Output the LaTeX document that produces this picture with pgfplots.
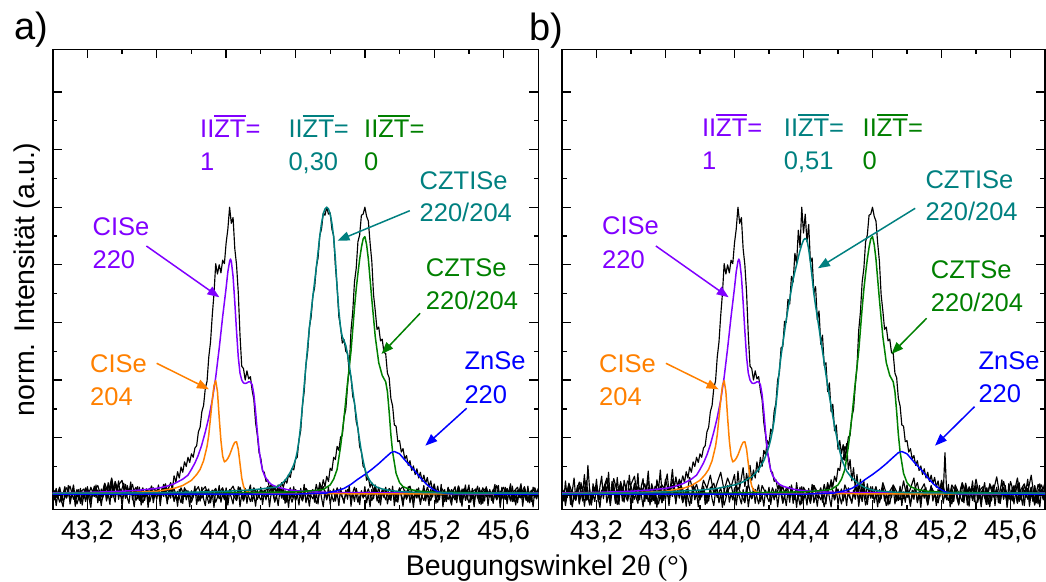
\documentclass[border=0pt]{standalone}
\usepackage{pgfplots}
\pgfplotsset{compat=1.18}
\usepackage{pgfplotstable}
\usetikzlibrary{arrows.meta}
\usepackage{fontspec}
\setmainfont{Liberation Sans}
\newfontfamily\seriffont{Liberation Serif}
\definecolor{cviolet}{RGB}{128,0,255}
\definecolor{cteal}{RGB}{0,128,128}
\definecolor{cgreen}{RGB}{0,128,0}
\definecolor{corange}{RGB}{255,128,0}
\definecolor{cblue}{RGB}{0,0,255}
\newcommand{\ZT}{\setbox0\hbox{ZT}\rlap{\rule[\dimexpr\ht0+0.12em\relax]{\wd0}{0.08em}}ZT}
\newcommand{\annfont}{\fontsize{25.5}{32}\selectfont}

\pgfplotstableread[row sep=\\]{x y\\
43.00 0.04\\43.20 0.05\\43.40 0.07\\43.50 0.09\\43.60 0.12\\43.65 0.15\\43.70 0.20\\43.75 0.28\\43.78 0.35\\43.80 0.45\\43.82 0.56\\43.84 0.70\\43.86 0.88\\43.88 1.10\\43.90 1.35\\43.92 1.65\\43.94 2.05\\43.96 2.55\\43.98 3.10\\44.00 3.60\\44.01 3.88\\44.02 4.06\\44.025 4.10\\44.03 4.06\\44.04 3.80\\44.05 3.35\\44.06 2.85\\44.07 2.40\\44.08 2.12\\44.09 2.00\\44.10 1.95\\44.11 1.94\\44.12 1.95\\44.13 1.97\\44.14 1.97\\44.15 1.92\\44.16 1.75\\44.17 1.45\\44.18 1.10\\44.19 0.80\\44.20 0.58\\44.21 0.44\\44.22 0.35\\44.24 0.25\\44.26 0.19\\44.28 0.16\\44.30 0.14\\44.35 0.10\\44.40 0.08\\44.50 0.06\\44.60 0.05\\44.80 0.045\\45.20 0.04\\45.80 0.04\\
}\tViolet

\pgfplotstableread[row sep=\\]{x y\\
43.00 0.03\\43.40 0.04\\43.60 0.07\\43.70 0.12\\43.75 0.17\\43.80 0.26\\43.83 0.36\\43.85 0.45\\43.87 0.60\\43.89 0.85\\43.90 1.05\\43.91 1.35\\43.92 1.65\\43.93 1.90\\43.94 1.99\\43.95 1.80\\43.96 1.35\\43.97 0.95\\43.98 0.68\\43.99 0.58\\44.00 0.60\\44.01 0.64\\44.02 0.70\\44.03 0.78\\44.04 0.86\\44.05 0.92\\44.06 0.93\\44.07 0.80\\44.08 0.55\\44.09 0.30\\44.10 0.16\\44.11 0.09\\44.13 0.05\\44.20 0.03\\45.80 0.02\\
}\tOrange

\pgfplotstableread[row sep=\\]{x y\\
43.00 0.03\\44.00 0.04\\44.40 0.06\\44.50 0.08\\44.56 0.10\\44.60 0.18\\44.62 0.28\\44.64 0.45\\44.66 0.85\\44.68 1.35\\44.70 1.95\\44.72 2.50\\44.74 3.25\\44.75 3.58\\44.76 3.85\\44.77 4.10\\44.78 4.30\\44.79 4.45\\44.80 4.49\\44.81 4.35\\44.82 4.10\\44.83 3.75\\44.84 3.40\\44.86 2.75\\44.88 2.30\\44.90 2.08\\44.92 1.97\\44.93 1.80\\44.94 1.45\\44.95 1.05\\44.96 0.75\\44.98 0.38\\45.00 0.22\\45.02 0.15\\45.06 0.10\\45.12 0.07\\45.20 0.055\\45.50 0.04\\45.80 0.035\\
}\tGreen

\pgfplotstableread[row sep=\\]{x y\\
43.00 0.02\\44.40 0.02\\44.50 0.03\\44.58 0.04\\44.64 0.08\\44.68 0.12\\44.72 0.19\\44.76 0.28\\44.80 0.36\\44.84 0.45\\44.88 0.55\\44.92 0.66\\44.95 0.74\\44.97 0.76\\45.00 0.72\\45.04 0.58\\45.08 0.45\\45.10 0.38\\45.13 0.27\\45.16 0.18\\45.19 0.11\\45.22 0.06\\45.26 0.035\\45.30 0.025\\45.80 0.02\\
}\tBlue

\pgfplotstableread[row sep=\\]{x y\\
43.00 0.035\\43.40 0.04\\43.70 0.05\\43.90 0.06\\44.00 0.07\\44.10 0.085\\44.15 0.095\\44.20 0.11\\44.25 0.13\\44.29 0.14\\44.30 0.16\\44.31 0.18\\44.32 0.20\\44.33 0.23\\44.34 0.26\\44.35 0.30\\44.36 0.35\\44.37 0.40\\44.38 0.46\\44.39 0.53\\44.40 0.62\\44.41 0.76\\44.42 0.95\\44.43 1.22\\44.44 1.55\\44.45 1.90\\44.46 2.25\\44.47 2.58\\44.48 2.90\\44.49 3.18\\44.50 3.45\\44.51 3.70\\44.52 3.95\\44.53 4.22\\44.54 4.50\\44.55 4.72\\44.56 4.88\\44.57 4.97\\44.58 5.00\\44.59 4.97\\44.60 4.88\\44.61 4.72\\44.62 4.48\\44.63 4.10\\44.64 3.60\\44.65 3.20\\44.66 2.90\\44.67 2.75\\44.68 2.68\\44.69 2.60\\44.70 2.45\\44.71 2.26\\44.72 2.05\\44.73 1.82\\44.74 1.60\\44.75 1.38\\44.76 1.15\\44.77 0.95\\44.78 0.75\\44.79 0.60\\44.80 0.46\\44.81 0.37\\44.82 0.30\\44.83 0.25\\44.84 0.21\\44.85 0.18\\44.86 0.16\\44.87 0.14\\44.88 0.13\\44.89 0.12\\44.90 0.11\\44.94 0.085\\45.00 0.065\\45.10 0.05\\45.30 0.04\\45.80 0.035\\
}\tTealA

\pgfplotstableread[row sep=\\]{x y\\
43.00 0.03\\43.40 0.04\\43.60 0.06\\43.80 0.09\\43.90 0.12\\44.00 0.18\\44.02 0.20\\44.04 0.22\\44.06 0.25\\44.08 0.29\\44.10 0.32\\44.12 0.38\\44.14 0.45\\44.15 0.50\\44.16 0.55\\44.17 0.60\\44.18 0.68\\44.19 0.76\\44.20 0.85\\44.21 0.97\\44.22 1.12\\44.23 1.30\\44.24 1.55\\44.25 1.85\\44.26 2.18\\44.27 2.42\\44.28 2.63\\44.29 2.84\\44.30 3.05\\44.31 3.23\\44.32 3.40\\44.33 3.58\\44.34 3.75\\44.35 3.88\\44.36 4.00\\44.37 4.13\\44.38 4.25\\44.39 4.35\\44.40 4.43\\44.41 4.46\\44.42 4.43\\44.43 4.27\\44.44 4.05\\44.45 3.78\\44.46 3.50\\44.47 3.29\\44.48 3.10\\44.49 2.90\\44.50 2.70\\44.51 2.50\\44.52 2.30\\44.53 2.10\\44.54 1.90\\44.55 1.72\\44.56 1.55\\44.57 1.37\\44.58 1.20\\44.59 1.05\\44.60 0.90\\44.61 0.77\\44.62 0.65\\44.63 0.56\\44.64 0.49\\44.65 0.42\\44.66 0.38\\44.68 0.30\\44.70 0.25\\44.72 0.20\\44.74 0.16\\44.76 0.13\\44.78 0.11\\44.80 0.09\\44.85 0.07\\44.95 0.05\\45.20 0.04\\45.80 0.035\\
}\tTealB

\pgfplotstableread[row sep=\\]{x y\\
43.70 0.34\\43.71 0.22\\43.72 0.41\\43.73 0.30\\43.74 0.49\\43.75 0.40\\43.76 0.58\\43.77 0.50\\43.78 0.66\\43.79 0.57\\43.80 0.72\\43.81 0.66\\43.82 0.82\\43.83 0.86\\43.84 1.10\\43.85 1.18\\43.86 1.45\\43.87 1.56\\43.88 1.86\\43.89 1.98\\43.90 2.40\\43.91 2.66\\43.92 3.12\\43.93 3.50\\43.94 4.02\\43.95 3.84\\43.96 4.00\\43.97 3.86\\43.98 4.08\\43.99 4.02\\44.00 4.38\\44.01 4.62\\44.02 5.00\\44.03 4.72\\44.04 4.82\\44.05 4.28\\44.06 4.00\\44.07 3.52\\44.08 2.78\\44.09 2.24\\44.10 2.20\\44.11 2.00\\44.12 2.16\\44.13 2.02\\44.14 2.06\\44.15 1.82\\44.16 1.66\\44.17 1.26\\44.18 1.04\\44.19 0.74\\44.20 0.64\\44.21 0.42\\44.22 0.40\\44.23 0.24\\44.24 0.27\\44.25 0.12\\44.26 0.19\\44.27 0.08\\44.28 0.15\\44.29 0.04\\44.30 0.12\\
}\tSone

\pgfplotstableread[row sep=\\]{x y\\
44.51 0.02\\44.52 0.19\\44.53 0.05\\44.54 0.22\\44.55 0.10\\44.56 0.27\\44.57 0.15\\44.58 0.33\\44.59 0.24\\44.60 0.47\\44.61 0.43\\44.62 0.66\\44.63 0.62\\44.64 0.85\\44.65 0.78\\44.66 1.01\\44.67 1.04\\44.68 1.36\\44.69 1.49\\44.70 1.90\\44.71 2.22\\44.72 2.86\\44.73 3.18\\44.74 3.70\\44.75 3.94\\44.76 4.40\\44.77 4.52\\44.78 4.86\\44.79 4.88\\44.80 5.00\\44.81 4.84\\44.82 4.76\\44.83 4.38\\44.84 4.06\\44.85 3.48\\44.86 3.20\\44.87 2.88\\44.88 2.92\\44.89 2.68\\44.90 2.71\\44.91 2.48\\44.92 2.46\\44.93 2.12\\44.94 2.04\\44.95 1.68\\44.96 1.55\\44.97 1.22\\44.98 1.20\\44.99 0.93\\45.00 0.95\\45.01 0.75\\45.02 0.81\\45.03 0.63\\45.04 0.69\\45.05 0.52\\45.06 0.60\\45.07 0.43\\45.08 0.51\\45.09 0.36\\45.10 0.46\\45.11 0.30\\45.12 0.40\\45.13 0.24\\45.14 0.35\\45.15 0.20\\45.16 0.31\\45.17 0.14\\45.18 0.25\\45.19 0.08\\45.20 0.20\\
}\tGpeak

\pgfplotstableread[row sep=\\]{x y\\
43.00 -0.12\\43.01 0.08\\43.02 -0.18\\43.03 0.03\\43.04 0.14\\43.05 -0.09\\43.06 -0.20\\43.07 0.06\\43.08 -0.04\\43.09 0.17\\
43.10 -0.15\\43.11 0.01\\43.12 0.10\\43.13 -0.19\\43.14 0.05\\43.15 -0.08\\43.16 0.12\\43.17 -0.17\\43.18 0.02\\43.19 -0.11\\
43.20 0.15\\43.21 -0.06\\43.22 -0.21\\43.23 0.09\\43.24 -0.02\\43.25 0.18\\43.26 -0.13\\43.27 0.04\\43.28 -0.18\\43.29 0.07\\
43.30 0.20\\43.31 -0.10\\43.32 0.03\\43.33 -0.16\\43.34 0.24\\43.35 0.01\\43.36 -0.12\\43.37 0.16\\43.38 -0.07\\43.39 0.11\\
43.40 -0.19\\43.41 0.06\\43.42 0.19\\43.43 -0.04\\43.44 -0.14\\43.45 0.13\\43.46 0.00\\43.47 -0.20\\43.48 0.08\\43.49 -0.06\\
43.50 0.14\\43.51 -0.17\\43.52 0.05\\43.53 -0.09\\43.54 0.11\\43.55 -0.21\\43.56 0.02\\43.57 0.16\\43.58 -0.13\\43.59 0.04\\
43.60 -0.07\\43.61 0.12\\43.62 -0.18\\43.63 0.06\\43.64 -0.02\\43.65 0.15\\43.66 -0.15\\43.67 0.09\\43.68 -0.05\\43.69 0.18\\
43.70 -0.11\\43.71 0.03\\43.72 -0.19\\43.73 0.10\\43.74 0.00\\43.75 -0.14\\43.76 0.13\\43.77 -0.08\\43.78 0.05\\43.79 -0.20\\
43.80 0.08\\43.81 -0.03\\43.82 0.16\\43.83 -0.16\\43.84 0.02\\43.85 -0.10\\43.86 0.14\\43.87 -0.06\\43.88 -0.18\\43.89 0.07\\
43.90 0.11\\43.91 -0.13\\43.92 0.04\\43.93 -0.21\\43.94 0.09\\43.95 -0.01\\43.96 0.17\\43.97 -0.12\\43.98 0.03\\43.99 -0.08\\
44.00 0.13\\44.01 -0.17\\44.02 0.06\\44.03 -0.04\\44.04 -0.15\\44.05 0.10\\44.06 -0.09\\44.07 0.15\\44.08 -0.20\\44.09 0.02\\
44.10 -0.06\\44.11 0.12\\44.12 -0.14\\44.13 0.07\\44.14 0.18\\44.15 -0.11\\44.16 0.01\\44.17 -0.19\\44.18 0.09\\44.19 -0.03\\
44.20 0.14\\44.21 -0.16\\44.22 0.05\\44.23 -0.08\\44.24 0.11\\44.25 -0.20\\44.26 0.04\\44.27 0.16\\44.28 -0.12\\44.29 0.00\\
44.30 -0.18\\44.31 0.08\\44.32 -0.05\\44.33 0.13\\44.34 -0.14\\44.35 0.06\\44.36 -0.21\\44.37 0.10\\44.38 -0.02\\44.39 0.15\\
44.40 -0.09\\44.41 0.03\\44.42 -0.17\\44.43 0.12\\44.44 -0.06\\44.45 0.19\\44.46 -0.13\\44.47 0.01\\44.48 -0.19\\44.49 0.07\\
44.50 0.10\\44.51 -0.12\\44.52 0.04\\44.53 -0.15\\44.54 0.16\\44.55 -0.04\\44.56 -0.20\\44.57 0.08\\44.58 -0.08\\44.59 0.14\\
44.60 -0.16\\44.61 0.02\\44.62 0.11\\44.63 -0.10\\44.64 0.05\\44.65 -0.18\\44.66 0.13\\44.67 -0.03\\44.68 -0.14\\44.69 0.09\\
44.70 -0.07\\44.71 0.17\\44.72 -0.19\\44.73 0.04\\44.74 -0.11\\44.75 0.12\\44.76 -0.01\\44.77 -0.16\\44.78 0.08\\44.79 -0.05\\
44.80 0.15\\44.81 -0.13\\44.82 0.03\\44.83 -0.20\\44.84 0.10\\44.85 -0.06\\44.86 0.18\\44.87 -0.10\\44.88 0.02\\44.89 -0.17\\
44.90 0.07\\44.91 -0.04\\44.92 0.14\\44.93 -0.15\\44.94 0.01\\44.95 -0.09\\44.96 0.16\\44.97 -0.18\\44.98 0.06\\44.99 -0.12\\
45.00 0.11\\45.01 -0.02\\45.02 -0.19\\45.03 0.09\\45.04 -0.07\\45.05 0.15\\45.06 -0.13\\45.07 0.04\\45.08 -0.21\\45.09 0.08\\
45.10 -0.05\\45.11 0.13\\45.12 -0.16\\45.13 0.02\\45.14 0.17\\45.15 -0.10\\45.16 0.05\\45.17 -0.18\\45.18 0.10\\45.19 -0.03\\
45.20 0.12\\45.21 -0.14\\45.22 0.06\\45.23 -0.08\\45.24 0.19\\45.25 -0.20\\45.26 0.03\\45.27 -0.11\\45.28 0.14\\45.29 -0.06\\
45.30 -0.17\\45.31 0.09\\45.32 0.01\\45.33 -0.13\\45.34 0.16\\45.35 -0.04\\45.36 -0.19\\45.37 0.11\\45.38 -0.09\\45.39 0.05\\
45.40 0.18\\45.41 -0.12\\45.42 0.02\\45.43 -0.20\\45.44 0.08\\45.45 -0.05\\45.46 0.13\\45.47 -0.16\\45.48 0.04\\45.49 -0.10\\
45.50 0.15\\45.51 -0.18\\45.52 0.07\\45.53 -0.02\\45.54 -0.14\\45.55 0.11\\45.56 -0.07\\45.57 0.17\\45.58 -0.21\\45.59 0.03\\
45.60 -0.08\\45.61 0.14\\45.62 -0.15\\45.63 0.06\\45.64 0.20\\45.65 -0.11\\45.66 0.00\\45.67 -0.17\\45.68 0.09\\45.69 -0.04\\
45.70 0.12\\45.71 -0.19\\45.72 0.05\\45.73 -0.09\\45.74 0.16\\45.75 -0.13\\45.76 0.02\\45.77 -0.20\\45.78 0.10\\45.79 -0.06\\
45.80 0.08\\
}\tNoise

\pgfplotsset{
  panel/.style={
    scale only axis, anchor=south west, height=460pt,
    xmin=43.0, xmax=45.8, ymin=-0.243, ymax=7.74,
    xtick={43.2,43.6,44.0,44.4,44.8,45.2,45.6},
    xticklabels={{43,2},{43,6},{44,0},{44,4},{44,8},{45,2},{45,6}},
    minor x tick num=1,
    ytick={0,1,2,3,4,5,6,7}, yticklabels={}, minor y tick num=1,
    tick align=inside, major tick length=9pt, minor tick length=4.7pt,
    every tick/.style={black, line width=1.3pt},
    axis line style={line width=1.6pt},
    xticklabel style={font=\fontsize{27}{32}\selectfont, anchor=base, yshift=-30.2pt},
  },
  blk/.style={black, line width=1.15pt, line join=round, mark=none},
  fit/.style={line width=1.5pt, line join=round, mark=none},
}

\begin{document}
\begin{tikzpicture}
\useasboundingbox (0,0) rectangle (1046pt,581pt);

% ---------------- panel a ----------------
\begin{axis}[panel, at={(52.7pt,71.7pt)}, width=485.6pt]
\addplot[blk] table[x=x,y=y]{\tNoise};
\addplot[blk] coordinates {(43.00,0.05)(43.01,-0.08)(43.02,0.12)(43.03,-0.03)(43.04,0.09)(43.05,-0.12)(43.06,0.02)(43.07,0.15)(43.08,-0.05)(43.09,0.07)(43.10,-0.10)(43.11,0.04)(43.12,0.18)(43.13,-0.06)(43.14,0.01)(43.15,0.10)(43.16,-0.14)(43.17,0.06)(43.18,-0.02)(43.19,0.13)(43.20,-0.07)(43.21,0.09)(43.22,-0.11)(43.23,0.03)(43.24,0.16)(43.25,-0.04)(43.26,0.08)(43.27,-0.09)(43.28,0.11)(43.29,0.00)(43.30,0.14)(43.31,-0.06)(43.32,0.22)(43.33,0.05)(43.34,0.28)(43.35,-0.03)(43.36,0.19)(43.37,0.07)(43.38,0.25)(43.39,-0.02)(43.40,0.12)(43.41,0.21)(43.42,-0.05)(43.43,0.17)(43.44,0.04)(43.45,0.23)(43.46,-0.08)(43.47,0.10)(43.48,0.02)(43.49,0.15)(43.50,-0.09)(43.51,0.07)(43.52,0.13)(43.53,-0.04)(43.54,0.11)(43.55,-0.12)(43.56,0.06)(43.57,0.16)(43.58,-0.03)(43.59,0.09)(43.60,0.03)(43.61,0.18)(43.62,-0.06)(43.63,0.12)(43.64,0.05)(43.65,0.20)(43.66,0.08)(43.67,0.14)(43.68,0.22)(43.69,0.11)(43.70,0.34)};
\addplot[blk] table[x=x,y=y]{\tSone};
\addplot[blk] coordinates {(44.30,0.12)(44.31,0.02)(44.32,0.10)(44.33,-0.07)(44.34,0.08)(44.35,-0.12)(44.36,0.05)(44.37,0.13)(44.38,-0.04)(44.39,0.07)(44.40,-0.09)(44.42,0.06)(44.44,-0.10)(44.46,0.12)(44.48,-0.03)(44.50,0.09)(44.52,-0.14)(44.54,0.04)(44.56,0.15)(44.58,-0.06)(44.60,0.08)(44.62,-0.11)(44.64,0.13)(44.66,0.01)(44.68,-0.08)(44.70,0.10)(44.72,-0.05)(44.74,0.14)(44.76,-0.12)(44.78,0.06)(44.80,-0.02)(44.82,0.11)(44.84,-0.09)(44.86,0.07)(44.88,-0.13)(44.90,0.05)(44.92,0.12)(44.94,-0.07)(44.96,0.09)(44.98,-0.04)(45.00,0.13)(45.02,-0.10)(45.04,0.06)(45.06,0.16)(45.08,-0.05)(45.10,0.08)(45.12,-0.12)(45.14,0.10)(45.16,0.02)(45.18,-0.09)(45.20,0.14)(45.22,-0.03)(45.24,0.07)(45.26,-0.11)(45.28,0.12)(45.30,0.03)(45.32,-0.08)(45.34,0.15)(45.36,-0.04)(45.38,0.09)(45.40,-0.13)(45.42,0.06)(45.44,0.11)(45.46,-0.07)(45.48,0.13)(45.50,-0.02)(45.52,0.08)(45.54,-0.10)(45.56,0.17)(45.58,0.01)(45.60,-0.06)(45.62,0.12)(45.64,-0.09)(45.66,0.07)(45.68,0.14)(45.70,-0.05)(45.72,0.10)(45.74,-0.12)(45.76,0.06)(45.78,0.13)(45.80,-0.03)};
\addplot[blk] coordinates {(43.00,-0.06)(43.02,0.10)(43.04,-0.12)(43.06,0.04)(43.08,0.13)(43.10,-0.05)(43.12,0.08)(43.14,-0.15)(43.16,0.06)(43.18,0.11)(43.20,-0.08)(43.22,0.14)(43.24,-0.02)(43.26,0.09)(43.28,-0.11)(43.30,0.05)(43.32,0.18)(43.34,-0.04)(43.36,0.24)(43.38,0.07)(43.40,-0.06)(43.42,0.15)(43.44,0.02)(43.46,0.19)(43.48,-0.09)(43.50,0.10)(43.52,-0.13)(43.54,0.06)(43.56,0.12)(43.58,-0.07)(43.60,0.09)(43.62,-0.03)(43.64,0.14)(43.66,-0.10)(43.68,0.05)(43.70,0.11)(43.72,-0.08)(43.74,0.13)(43.76,-0.02)(43.78,0.08)(43.80,-0.12)(43.82,0.06)(43.84,0.15)(43.86,-0.05)(43.88,0.09)(43.90,-0.14)(43.92,0.04)(43.94,0.12)(43.96,-0.06)(43.98,0.10)(44.00,-0.09)(44.02,0.07)(44.04,0.16)(44.06,-0.03)(44.08,0.11)(44.10,-0.10)(44.12,0.08)(44.14,0.02)(44.16,0.13)(44.18,-0.07)(44.20,0.10)(44.22,0.04)(44.24,0.15)(44.26,0.01)(44.28,0.12)(44.29,0.06)(44.30,0.18)(44.31,0.09)(44.32,0.22)(44.33,0.14)(44.34,0.27)(44.35,0.21)(44.36,0.36)(44.37,0.31)(44.38,0.47)(44.39,0.44)(44.40,0.63)(44.41,0.66)(44.42,0.96)(44.43,1.12)(44.44,1.56)(44.45,1.80)(44.46,2.26)(44.47,2.49)(44.48,2.92)(44.49,3.09)(44.50,3.46)(44.51,3.60)(44.52,3.96)(44.53,4.12)(44.54,4.51)(44.55,4.62)(44.56,4.90)(44.57,4.86)(44.58,5.00)(44.59,4.88)(44.60,4.90)(44.61,4.62)(44.62,4.50)(44.63,3.98)(44.64,3.62)(44.65,3.10)(44.66,2.92)(44.67,2.64)(44.68,2.70)(44.69,2.50)(44.70,2.46)(44.71,2.14)(44.72,2.06)(44.73,1.72)(44.74,1.61)(44.75,1.28)(44.76,1.16)(44.77,0.84)(44.78,0.76)(44.79,0.50)(44.80,0.47)(44.81,0.26)(44.82,0.31)(44.83,0.14)(44.84,0.22)(44.85,0.06)(44.86,0.17)(44.87,0.02)(44.88,0.14)(44.89,-0.03)(44.90,0.10)(44.92,-0.08)(44.94,0.12)(44.96,0.03)(44.98,-0.11)(45.00,0.09)(45.02,0.15)(45.04,-0.06)(45.06,0.07)(45.08,-0.13)(45.10,0.11)(45.12,0.04)(45.14,-0.09)(45.16,0.14)(45.18,-0.02)(45.20,0.08)(45.22,-0.12)(45.24,0.13)(45.26,0.05)(45.28,-0.07)(45.30,0.10)(45.32,-0.04)(45.34,0.16)(45.36,-0.10)(45.38,0.06)(45.40,0.12)(45.42,-0.05)(45.44,0.09)(45.46,-0.14)(45.48,0.07)(45.50,0.13)(45.52,-0.03)(45.54,0.10)(45.56,-0.08)(45.58,0.05)(45.60,0.14)(45.62,-0.06)(45.64,0.11)(45.66,-0.11)(45.68,0.08)(45.70,0.02)(45.72,0.15)(45.74,-0.07)(45.76,0.09)(45.78,-0.04)(45.80,0.12)};
\addplot[blk] coordinates {(43.00,0.09)(43.02,-0.04)(43.04,0.13)(43.06,-0.10)(43.08,0.02)(43.10,0.16)(43.12,-0.07)(43.14,0.10)(43.16,-0.12)(43.18,0.05)(43.20,0.12)(43.22,-0.06)(43.24,0.08)(43.26,0.17)(43.28,-0.03)(43.30,0.21)(43.32,0.04)(43.34,0.30)(43.36,-0.02)(43.38,0.18)(43.40,0.26)(43.42,-0.05)(43.44,0.11)(43.46,0.03)(43.48,0.14)(43.50,-0.08)(43.52,0.09)(43.54,0.01)(43.56,-0.11)(43.58,0.13)(43.60,0.06)(43.62,-0.04)(43.64,0.19)(43.66,0.02)(43.68,0.10)(43.70,-0.09)(43.72,0.07)(43.74,-0.13)(43.76,0.12)(43.78,0.04)(43.80,-0.06)(43.82,0.11)(43.84,-0.10)(43.86,0.08)(43.88,0.15)(43.90,-0.03)(43.92,0.09)(43.94,-0.12)(43.96,0.05)(43.98,0.13)(44.00,-0.07)(44.02,0.10)(44.04,0.01)(44.06,-0.09)(44.08,0.14)(44.10,-0.04)(44.12,0.07)(44.14,-0.11)(44.16,0.12)(44.18,0.03)(44.20,-0.08)(44.22,0.09)(44.24,-0.02)(44.26,0.13)(44.28,-0.10)(44.30,0.06)(44.32,0.11)(44.34,-0.05)(44.36,0.08)(44.38,-0.12)(44.40,0.10)(44.42,0.02)(44.44,-0.07)(44.46,0.12)(44.48,0.04)(44.50,-0.06)(44.51,0.02)};
\addplot[blk] table[x=x,y=y]{\tGpeak};
\addplot[blk] coordinates {(45.20,0.20)(45.21,0.03)(45.22,0.16)(45.23,-0.02)(45.24,0.12)(45.25,-0.04)(45.26,0.10)(45.27,-0.07)(45.28,0.13)(45.29,0.01)(45.30,-0.10)(45.31,0.08)(45.32,0.15)(45.33,-0.05)(45.34,0.06)(45.35,-0.12)(45.36,0.11)(45.37,0.03)(45.38,0.18)(45.39,-0.08)(45.40,0.07)(45.41,-0.03)(45.42,0.12)(45.43,-0.11)(45.44,0.05)(45.45,0.16)(45.46,-0.06)(45.47,0.09)(45.48,-0.14)(45.49,0.04)(45.50,0.13)(45.51,-0.02)(45.52,0.10)(45.53,-0.09)(45.54,0.06)(45.55,0.19)(45.56,-0.04)(45.57,0.08)(45.58,-0.12)(45.59,0.14)(45.60,0.02)(45.61,-0.07)(45.62,0.11)(45.63,0.05)(45.64,-0.10)(45.65,0.16)(45.66,-0.03)(45.67,0.09)(45.68,-0.13)(45.69,0.07)(45.70,0.20)(45.71,-0.05)(45.72,0.10)(45.73,-0.08)(45.74,0.12)(45.75,0.01)(45.76,-0.11)(45.77,0.14)(45.78,0.04)(45.79,-0.06)(45.80,0.09)};
\addplot[fit, cviolet] table[x=x,y=y]{\tViolet};
\addplot[fit, corange] table[x=x,y=y]{\tOrange};
\addplot[fit, cgreen] table[x=x,y=y]{\tGreen};
\addplot[fit, cblue] table[x=x,y=y]{\tBlue};
\addplot[fit, cteal] table[x=x,y=y]{\tTealA};
\end{axis}

% ---------------- panel b ----------------
\begin{axis}[panel, at={(562pt,71.7pt)}, width=483pt]
\addplot[blk] table[x=x,y=y]{\tNoise};
\addplot[blk] coordinates {(43.00,0.12)(43.01,-0.10)(43.02,0.25)(43.03,-0.04)(43.04,0.18)(43.05,-0.16)(43.06,0.08)(43.07,0.30)(43.08,-0.07)(43.09,0.14)(43.10,-0.13)(43.11,0.22)(43.12,0.05)(43.13,0.36)(43.14,-0.09)(43.15,0.52)(43.16,0.10)(43.17,-0.15)(43.18,0.20)(43.19,0.02)(43.20,0.28)(43.21,-0.11)(43.22,0.15)(43.23,0.33)(43.24,-0.06)(43.25,0.19)(43.26,0.06)(43.27,0.40)(43.28,-0.12)(43.29,0.24)(43.30,0.09)(43.31,-0.14)(43.32,0.31)(43.33,0.03)(43.34,0.17)(43.35,-0.10)(43.36,0.26)(43.37,0.12)(43.38,-0.05)(43.39,0.35)(43.40,0.07)(43.41,-0.13)(43.42,0.21)(43.43,0.04)(43.44,0.38)(43.45,-0.08)(43.46,0.16)(43.47,0.29)(43.48,-0.11)(43.49,0.13)(43.50,0.42)(43.51,-0.03)(43.52,0.20)(43.53,0.08)(43.54,-0.15)(43.55,0.27)(43.56,0.11)(43.57,0.44)(43.58,0.02)(43.59,-0.09)(43.60,0.23)(43.61,0.37)(43.62,0.06)(43.63,0.18)(43.64,0.45)(43.65,0.10)(43.66,0.32)(43.67,0.15)(43.68,0.28)(43.69,0.20)(43.70,0.34)};
\addplot[blk] table[x=x,y=y]{\tSone};
\addplot[blk] coordinates {(44.30,0.12)(44.31,0.10)(44.32,-0.12)(44.33,0.18)(44.34,0.03)(44.35,-0.08)(44.36,0.22)(44.37,-0.02)(44.38,0.14)(44.39,-0.15)(44.40,0.09)(44.42,0.08)(44.44,-0.14)(44.46,0.17)(44.48,-0.04)(44.50,0.13)(44.52,-0.20)(44.54,0.06)(44.56,0.21)(44.58,-0.08)(44.60,0.11)(44.62,-0.15)(44.64,0.18)(44.66,0.01)(44.68,-0.11)(44.70,0.14)(44.72,-0.07)(44.74,0.20)(44.76,-0.17)(44.78,0.08)(44.80,-0.03)(44.82,0.15)(44.84,-0.13)(44.86,0.10)(44.88,-0.18)(44.90,0.07)(44.92,0.17)(44.94,-0.10)(44.96,0.13)(44.98,-0.06)(45.00,0.18)(45.02,-0.14)(45.04,0.08)(45.06,0.22)(45.08,-0.07)(45.10,0.11)(45.12,-0.17)(45.14,0.14)(45.16,0.03)(45.18,-0.13)(45.20,0.20)(45.22,-0.04)(45.24,0.10)(45.26,-0.15)(45.28,0.17)(45.30,0.04)(45.32,-0.11)(45.34,0.21)(45.36,-0.06)(45.38,0.13)(45.40,-0.18)(45.42,0.08)(45.44,0.15)(45.46,-0.10)(45.48,0.18)(45.50,-0.03)(45.52,0.11)(45.54,-0.14)(45.56,0.24)(45.58,0.01)(45.60,-0.08)(45.62,0.17)(45.64,-0.13)(45.66,0.10)(45.68,0.20)(45.70,-0.07)(45.72,0.14)(45.74,-0.17)(45.76,0.08)(45.78,0.18)(45.80,-0.04)};
\addplot[blk] coordinates {(43.00,0.10)(43.02,-0.12)(43.04,0.21)(43.06,0.03)(43.08,-0.09)(43.10,0.16)(43.12,-0.05)(43.14,0.26)(43.16,-0.14)(43.18,0.09)(43.20,0.18)(43.22,-0.08)(43.24,0.12)(43.26,0.30)(43.28,-0.03)(43.30,0.14)(43.32,-0.16)(43.34,0.22)(43.36,0.05)(43.38,-0.10)(43.40,0.19)(43.42,0.33)(43.44,-0.06)(43.46,0.13)(43.48,0.02)(43.50,0.25)(43.52,-0.11)(43.54,0.16)(43.56,0.07)(43.58,-0.13)(43.60,0.28)(43.62,0.04)(43.64,0.17)(43.66,-0.09)(43.68,0.22)(43.70,0.10)(43.72,-0.07)(43.74,0.31)(43.76,0.06)(43.78,0.19)(43.80,-0.04)(43.82,0.26)(43.84,0.12)(43.86,0.35)(43.88,0.03)(43.90,0.22)(43.92,0.40)(43.94,0.08)(43.96,0.30)(43.98,0.14)(44.00,0.36)(44.01,0.05)(44.02,0.42)(44.03,0.12)(44.04,0.30)(44.05,0.48)(44.06,0.15)(44.07,0.38)(44.08,0.20)(44.09,0.52)(44.10,0.26)(44.11,0.44)(44.12,0.30)(44.13,0.58)(44.14,0.40)(44.15,0.66)(44.16,0.50)(44.17,0.78)(44.18,0.70)(44.19,0.95)(44.20,0.88)(44.21,1.15)(44.22,1.10)(44.23,1.46)(44.24,1.60)(44.25,2.00)(44.26,2.12)(44.27,2.56)(44.28,2.58)(44.29,3.02)(44.30,3.00)(44.31,3.40)(44.32,3.32)(44.33,3.80)(44.34,3.70)(44.35,4.20)(44.36,4.02)(44.37,4.60)(44.38,4.30)(44.39,5.00)(44.40,4.55)(44.41,4.88)(44.42,4.40)(44.43,4.70)(44.44,4.05)(44.45,4.12)(44.46,3.50)(44.47,3.62)(44.48,3.05)(44.49,3.20)(44.50,2.62)(44.51,2.78)(44.52,2.25)(44.53,2.30)(44.54,1.80)(44.55,1.95)(44.56,1.45)(44.57,1.58)(44.58,1.12)(44.59,1.22)(44.60,0.80)(44.61,0.95)(44.62,0.72)(44.63,0.88)(44.64,0.60)(44.65,0.90)(44.66,0.45)(44.67,0.62)(44.68,0.25)(44.69,0.48)(44.70,0.12)(44.71,0.36)(44.72,0.05)(44.73,0.28)(44.74,-0.02)(44.75,0.24)(44.76,-0.06)(44.77,0.20)(44.78,0.02)(44.79,0.15)(44.80,-0.05)(44.82,0.14)(44.84,-0.10)(44.86,0.22)(44.88,0.03)(44.90,-0.15)(44.92,0.18)(44.94,0.06)(44.96,-0.08)(44.98,0.25)(45.00,-0.04)(45.02,0.12)(45.04,0.30)(45.06,-0.11)(45.08,0.09)(45.10,0.20)(45.12,-0.06)(45.14,0.15)(45.16,0.02)(45.18,-0.13)(45.20,0.26)(45.22,0.05)(45.24,-0.09)(45.26,0.18)(45.28,0.08)(45.30,-0.14)(45.32,0.22)(45.34,0.04)(45.36,0.13)(45.38,-0.07)(45.40,0.28)(45.42,-0.02)(45.44,0.11)(45.46,-0.16)(45.48,0.20)(45.50,0.06)(45.52,0.32)(45.54,-0.05)(45.56,0.14)(45.58,-0.12)(45.60,0.24)(45.62,0.03)(45.64,0.30)(45.66,-0.08)(45.68,0.16)(45.70,0.05)(45.72,0.35)(45.74,-0.10)(45.76,0.19)(45.78,0.02)(45.80,0.22)};
\addplot[blk] coordinates {(43.00,0.13)(43.02,-0.06)(43.04,0.19)(43.06,-0.14)(43.08,0.03)(43.10,0.23)(43.12,-0.10)(43.14,0.14)(43.16,-0.17)(43.18,0.07)(43.20,0.17)(43.22,-0.08)(43.24,0.11)(43.26,0.24)(43.28,-0.04)(43.30,0.29)(43.32,0.06)(43.34,0.20)(43.36,-0.03)(43.38,0.25)(43.40,0.16)(43.42,-0.07)(43.44,0.15)(43.46,0.04)(43.48,0.20)(43.50,-0.11)(43.52,0.13)(43.54,0.01)(43.56,-0.15)(43.58,0.18)(43.60,0.08)(43.62,-0.06)(43.64,0.27)(43.66,0.03)(43.68,0.14)(43.70,-0.13)(43.72,0.10)(43.74,-0.18)(43.76,0.17)(43.78,0.06)(43.80,-0.08)(43.82,0.15)(43.84,-0.14)(43.86,0.11)(43.88,0.21)(43.90,-0.04)(43.92,0.13)(43.94,-0.17)(43.96,0.07)(43.98,0.18)(44.00,-0.10)(44.02,0.14)(44.04,0.01)(44.06,-0.13)(44.08,0.20)(44.10,-0.06)(44.12,0.10)(44.14,-0.15)(44.16,0.17)(44.18,0.04)(44.20,-0.11)(44.22,0.13)(44.24,-0.03)(44.26,0.18)(44.28,-0.14)(44.30,0.08)(44.32,0.15)(44.34,-0.07)(44.36,0.11)(44.38,-0.17)(44.40,0.14)(44.42,0.03)(44.44,-0.10)(44.46,0.17)(44.48,0.06)(44.50,-0.08)(44.51,0.02)};
\addplot[blk] table[x=x,y=y]{\tGpeak};
\addplot[blk] coordinates {(45.20,0.20)(45.21,0.03)(45.22,0.74)(45.23,0.05)(45.24,0.12)(45.25,-0.04)(45.26,0.14)(45.27,-0.10)(45.28,0.18)(45.29,0.01)(45.30,-0.14)(45.31,0.11)(45.32,0.21)(45.33,-0.07)(45.34,0.08)(45.35,-0.17)(45.36,0.15)(45.37,0.04)(45.38,0.25)(45.39,-0.11)(45.40,0.10)(45.41,-0.04)(45.42,0.17)(45.43,-0.15)(45.44,0.07)(45.45,0.22)(45.46,-0.08)(45.47,0.13)(45.48,-0.20)(45.49,0.06)(45.50,0.18)(45.51,-0.03)(45.52,0.14)(45.53,-0.13)(45.54,0.08)(45.55,0.27)(45.56,-0.06)(45.57,0.11)(45.58,-0.17)(45.59,0.20)(45.60,0.03)(45.61,-0.10)(45.62,0.15)(45.63,0.07)(45.64,-0.14)(45.65,0.22)(45.66,-0.04)(45.67,0.13)(45.68,-0.18)(45.69,0.10)(45.70,0.28)(45.71,-0.07)(45.72,0.14)(45.73,-0.11)(45.74,0.17)(45.75,0.01)(45.76,-0.15)(45.77,0.20)(45.78,0.06)(45.79,-0.08)(45.80,0.13)};
\addplot[fit, cviolet] table[x=x,y=y]{\tViolet};
\addplot[fit, corange] table[x=x,y=y]{\tOrange};
\addplot[fit, cgreen] table[x=x,y=y]{\tGreen};
\addplot[fit, cblue] table[x=x,y=y]{\tBlue};
\addplot[fit, cteal] table[x=x,y=y]{\tTealB};
\end{axis}

% ---------------- labels ----------------
\node[anchor=base west, inner sep=0pt, font=\fontsize{38}{44}\selectfont] at (14pt,541pt) {a)};
\node[anchor=base west, inner sep=0pt, font=\fontsize{38}{44}\selectfont] at (529pt,540pt) {b)};
\node[rotate=90, anchor=base, inner sep=0pt, font=\fontsize{28.5}{34}\selectfont] at (34pt,301.7pt) {norm. Intensität (a.u.)};
\node[anchor=base, inner sep=0pt, font=\fontsize{28.5}{34}\selectfont] at (547pt,6pt) {Beugungswinkel 2{\seriffont θ (°)}};

\tikzset{ann/.style={anchor=base west, inner sep=0pt, font=\annfont},
         arr/.style={line width=1.5pt, -{Triangle[length=12pt,width=9pt]}}}

% panel a annotations
\node[ann, text=cviolet] at (200pt,443pt) {II\ZT=};
\node[ann, text=cviolet] at (200pt,410pt) {1};
\node[ann, text=cteal] at (288.3pt,443pt) {II\ZT=};
\node[ann, text=cteal] at (288.3pt,410pt) {0,30};
\node[ann, text=cgreen] at (364pt,443pt) {II\ZT=};
\node[ann, text=cgreen] at (364pt,410pt) {0};
\node[ann, text=cteal] at (419.5pt,391.7pt) {CZTISe};
\node[ann, text=cteal] at (419.5pt,359.3pt) {220/204};
\node[ann, text=cviolet] at (92.4pt,345pt) {CISe};
\node[ann, text=cviolet] at (92.4pt,312.7pt) {220};
\node[ann, text=cgreen] at (425.7pt,304.3pt) {CZTSe};
\node[ann, text=cgreen] at (425.7pt,271.7pt) {220/204};
\node[ann, text=corange] at (90pt,208.3pt) {CISe};
\node[ann, text=corange] at (90pt,175pt) {204};
\node[ann, text=cblue] at (464.3pt,211pt) {ZnSe};
\node[ann, text=cblue] at (464.3pt,177.7pt) {220};
\draw[arr, cteal] (409.8pt,370.3pt) -- (337.5pt,340.3pt);
\draw[arr, cviolet] (146.4pt,335pt) -- (219.4pt,283.7pt);
\draw[arr, cgreen] (420.1pt,267.7pt) -- (381.5pt,227pt);
\draw[arr, corange] (156.7pt,217.7pt) -- (209pt,191.7pt);
\draw[arr, cblue] (466.6pt,172.7pt) -- (425.3pt,135.3pt);

% panel b annotations
\node[ann, text=cviolet] at (701.8pt,444pt) {II\ZT=};
\node[ann, text=cviolet] at (701.8pt,411pt) {1};
\node[ann, text=cteal] at (783.7pt,444pt) {II\ZT=};
\node[ann, text=cteal] at (783.7pt,411pt) {0,51};
\node[ann, text=cgreen] at (862.5pt,444pt) {II\ZT=};
\node[ann, text=cgreen] at (862.5pt,411pt) {0};
\node[ann, text=cteal] at (925.3pt,392pt) {CZTISe};
\node[ann, text=cteal] at (925.3pt,360pt) {220/204};
\node[ann, text=cviolet] at (602pt,346pt) {CISe};
\node[ann, text=cviolet] at (602pt,312.7pt) {220};
\node[ann, text=cgreen] at (930.7pt,302pt) {CZTSe};
\node[ann, text=cgreen] at (930.7pt,269pt) {220/204};
\node[ann, text=corange] at (599pt,208.3pt) {CISe};
\node[ann, text=corange] at (599pt,175pt) {204};
\node[ann, text=cblue] at (978.3pt,211.7pt) {ZnSe};
\node[ann, text=cblue] at (978.3pt,178.3pt) {220};
\draw[arr, cteal] (915.2pt,372.7pt) -- (817.9pt,312.7pt);
\draw[arr, cviolet] (655.9pt,335pt) -- (728.7pt,283.7pt);
\draw[arr, cgreen] (926.6pt,262.7pt) -- (891.4pt,227pt);
\draw[arr, corange] (665.9pt,217.7pt) -- (718.6pt,191.7pt);
\draw[arr, cblue] (974.5pt,174.3pt) -- (935pt,135.3pt);
\end{tikzpicture}
\end{document}
